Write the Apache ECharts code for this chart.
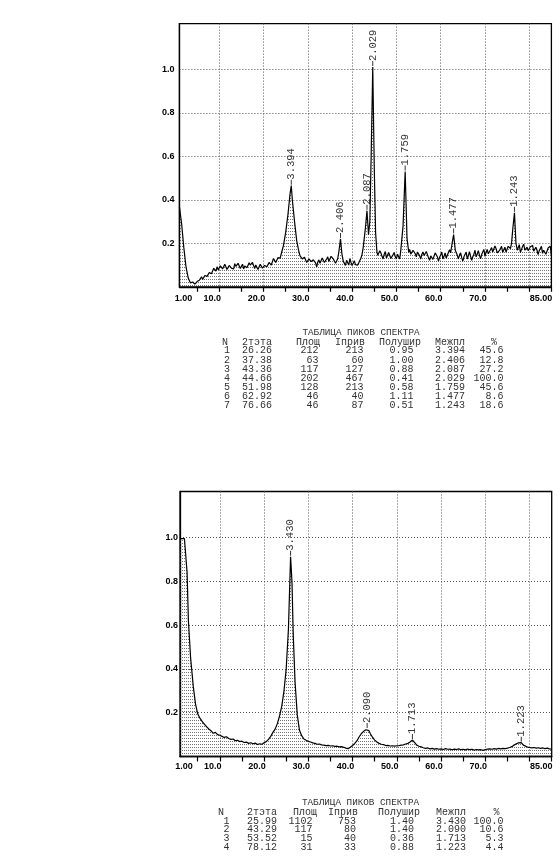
<!DOCTYPE html>
<html>
<head>
<meta charset="utf-8">
<script src="https://cdn.jsdelivr.net/npm/echarts@6/dist/echarts.min.js"></script>
<style>
html,body{margin:0;padding:0;background:#fff;}
#c{width:560px;height:856px;}
</style>
</head>
<body>
<div id="c"></div>
<script>
// ---------- axis ticks / labels ----------
const xLabelValues = [1, 10, 20, 30, 40, 50, 60, 70, 85];
const xLabelTexts = ['1.00', '10.0', '20.0', '30.0', '40.0', '50.0', '60.0', '70.0', '85.00'];
const xTickValues = [5, 10, 15, 20, 25, 30, 35, 40, 45, 50, 55, 60, 65, 70, 75, 80, 85];
const xGridValues = [10, 20, 30, 40, 50, 60, 70, 80];
const yLabelValues = [0.2, 0.4, 0.6, 0.8, 1.0];

// ---------- spectrum 1 (2theta, relative intensity) ----------
const spectrumA = [
[1.0,0.37],[1.5,0.29],[2.0,0.18],[2.5,0.09],[3.0,0.04],[3.5,0.018],[4.0,0.022],[4.5,0.012],
[5.0,0.024],[5.25,0.018],[5.5,0.03],[5.75,0.026],[6.0,0.046],[6.25,0.034],[6.5,0.038],[6.75,0.052],[7.0,0.06],[7.25,0.048],
[7.5,0.052],[7.75,0.066],[8.0,0.075],[8.25,0.06],[8.5,0.068],[8.75,0.085],[9.0,0.082],[9.25,0.072],[9.5,0.092],[9.75,0.078],
[10.0,0.084],[10.25,0.096],[10.5,0.1],[10.75,0.082],[11.0,0.088],[11.25,0.104],[11.5,0.097],[11.75,0.08],[12.0,0.084],[12.25,0.098],
[12.5,0.102],[12.75,0.086],[13.0,0.09],[13.25,0.082],[13.5,0.106],[13.75,0.094],[14.0,0.088],[14.25,0.108],[14.5,0.1],[14.75,0.084],
[15.0,0.094],[15.25,0.104],[15.5,0.082],[15.75,0.096],[16.0,0.104],[16.25,0.088],[16.5,0.09],[16.75,0.11],[17.0,0.1],[17.25,0.092],
[17.5,0.112],[17.75,0.098],[18.0,0.084],[18.25,0.1],[18.5,0.096],[18.75,0.08],[19.0,0.088],[19.25,0.104],[19.5,0.1],[19.75,0.086],
[20.0,0.084],[20.25,0.098],[20.5,0.106],[20.75,0.092],[21.0,0.098],[21.25,0.112],[21.5,0.116],[21.75,0.1],[22.0,0.108],[22.25,0.13],
[22.5,0.126],[22.75,0.112],[23.0,0.118],[23.25,0.134],[23.5,0.14],[23.75,0.132],[24.0,0.152],[24.5,0.19],[25.0,0.25],[25.5,0.33],
[26.0,0.43],[26.26,0.465],[26.5,0.4],[27.0,0.3],[27.5,0.21],
[28.0,0.16],[28.25,0.142],[28.5,0.138],[28.75,0.128],[29.0,0.122],[29.25,0.136],[29.5,0.13],[29.75,0.112],[30.0,0.118],[30.25,0.128],
[30.5,0.134],[30.75,0.116],[31.0,0.108],[31.25,0.124],[31.5,0.128],[31.75,0.11],[32.0,0.092],[32.25,0.114],[32.5,0.124],[32.75,0.108],
[33.0,0.112],[33.25,0.132],[33.5,0.13],[33.75,0.112],[34.0,0.118],[34.25,0.128],[34.5,0.138],[34.75,0.116],[35.0,0.124],[35.25,0.14],
[35.5,0.148],[35.75,0.128],[36.0,0.13],[36.25,0.108],[36.5,0.118],[36.75,0.13],[37.0,0.16],[37.38,0.22],[37.7,0.15],[38.0,0.118],
[38.25,0.11],[38.5,0.098],[38.75,0.122],[39.0,0.114],[39.25,0.1],[39.5,0.13],[39.75,0.112],[40.0,0.098],[40.25,0.108],[40.5,0.12],
[40.75,0.102],[41.0,0.094],[41.25,0.1],[41.5,0.11],[41.75,0.118],[42.0,0.132],[42.25,0.15],[42.5,0.18],[43.0,0.27],[43.36,0.35],
[43.7,0.24],[44.0,0.3],[44.3,0.6],[44.66,1.01],[45.0,0.55],[45.3,0.25],
[45.6,0.16],[45.8,0.145],[46.0,0.138],[46.25,0.166],[46.5,0.156],[46.75,0.14],[47.0,0.128],[47.25,0.15],[47.5,0.162],[47.75,0.132],
[48.0,0.136],[48.25,0.158],[48.5,0.15],[48.75,0.13],[49.0,0.122],[49.25,0.148],[49.5,0.158],[49.75,0.138],[50.0,0.128],[50.25,0.15],
[50.5,0.142],[50.75,0.128],[51.0,0.17],[51.5,0.28],[51.98,0.53],[52.4,0.22],[52.8,0.158],[53.0,0.172],[53.25,0.15],[53.5,0.142],
[53.75,0.168],[54.0,0.176],[54.25,0.152],[54.5,0.138],[54.75,0.16],[55.0,0.166],[55.25,0.142],[55.5,0.128],[55.75,0.15],[56.0,0.16],
[56.25,0.144],[56.5,0.138],[56.75,0.162],[57.0,0.156],[57.25,0.134],[57.5,0.122],[57.75,0.142],[58.0,0.15],[58.25,0.126],[58.5,0.132],
[58.75,0.156],[59.0,0.162],[59.25,0.138],[59.5,0.118],[59.75,0.136],[60.0,0.146],[60.25,0.16],[60.5,0.128],[60.75,0.14],[61.0,0.156],
[61.25,0.132],[61.5,0.138],[61.75,0.158],[62.0,0.17],[62.25,0.156],[62.5,0.19],[62.92,0.24],[63.3,0.168],[63.5,0.158],[63.7,0.148],
[64.0,0.128],[64.25,0.146],[64.5,0.156],[64.75,0.134],[65.0,0.118],[65.25,0.138],[65.5,0.146],[65.75,0.16],[66.0,0.128],[66.25,0.144],
[66.5,0.162],[66.75,0.14],[67.0,0.122],[67.25,0.138],[67.5,0.15],[67.75,0.168],[68.0,0.138],[68.25,0.15],[68.5,0.166],[68.75,0.146],
[69.0,0.128],[69.25,0.148],[69.5,0.156],[69.75,0.172],[70.0,0.14],[70.25,0.158],[70.5,0.172],[70.75,0.152],[71.0,0.148],[71.25,0.17],
[71.5,0.18],[71.75,0.16],[72.0,0.158],[72.25,0.188],[72.5,0.176],[72.75,0.156],[73.0,0.148],[73.25,0.166],[73.5,0.172],[73.75,0.186],
[74.0,0.158],[74.25,0.17],[74.5,0.182],[74.75,0.16],[75.0,0.164],[75.25,0.186],[75.5,0.19],[75.75,0.176],[76.0,0.2],[76.3,0.27],
[76.66,0.34],[77.0,0.2],[77.3,0.168],[77.5,0.176],[77.75,0.194],[78.0,0.158],[78.25,0.172],[78.5,0.186],[78.75,0.196],[79.0,0.168],
[79.25,0.176],[79.5,0.182],[79.75,0.166],[80.0,0.158],[80.25,0.184],[80.5,0.176],[80.75,0.19],[81.0,0.164],[81.25,0.17],[81.5,0.182],
[81.75,0.168],[82.0,0.148],[82.25,0.166],[82.5,0.172],[82.75,0.186],[83.0,0.154],[83.25,0.168],[83.5,0.176],[83.75,0.15],[84.0,0.158],
[84.25,0.178],[84.5,0.17],[84.75,0.186],[85.0,0.145]
];
const peakTopA = [0.465, 0.22, 0.35, 1.01, 0.53, 0.24, 0.34];

// peak table 1
const tblA_N = [1, 2, 3, 4, 5, 6, 7];
const tblA_theta = ['26.26', '37.38', '43.36', '44.66', '51.98', '62.92', '76.66'];
const tblA_area = [212, 63, 117, 202, 128, 46, 46];
const tblA_int = [213, 60, 127, 467, 213, 40, 87];
const tblA_fwhm = ['0.95', '1.00', '0.88', '0.41', '0.58', '1.11', '0.51'];
const tblA_d = ['3.394', '2.406', '2.087', '2.029', '1.759', '1.477', '1.243'];
const tblA_pct = ['45.6', '12.8', '27.2', '100.0', '45.6', '8.6', '18.6'];

// ---------- spectrum 2 ----------
const spectrumB = [
[1.0,0.995],[1.5,0.995],[2.0,0.995],[2.4,0.995],[2.6,0.84],[2.9,0.62],[3.4,0.45],[4.0,0.32],[4.5,0.24],[5.0,0.195],
[5.5,0.175],[6.0,0.16],[6.5,0.148],[7.0,0.136],[7.5,0.126],[8.0,0.118],[8.5,0.106],[9.0,0.11],[9.5,0.1],[10.0,0.097],
[10.5,0.092],[11.0,0.087],[11.5,0.09],[12.0,0.082],[12.5,0.078],[13.0,0.08],[13.5,0.072],[14.0,0.074],[14.5,0.068],[15.0,0.07],
[15.5,0.064],[16.0,0.066],[16.5,0.06],[17.0,0.063],[17.5,0.058],[18.0,0.061],[18.5,0.055],[19.0,0.058],[19.5,0.056],[20.0,0.063],
[20.5,0.068],[21.0,0.078],[21.5,0.092],[22.0,0.11],[22.5,0.125],[23.0,0.15],[23.5,0.185],[24.0,0.23],[24.5,0.3],[25.0,0.4],
[25.5,0.58],[25.99,0.912],[26.3,0.8],[26.6,0.55],[27.0,0.34],[27.5,0.19],[28.0,0.12],[28.5,0.095],[29.0,0.08],[29.5,0.074],
[30.0,0.069],[30.5,0.066],[31.0,0.062],[31.5,0.06],[32.0,0.056],[32.5,0.057],[33.0,0.053],[33.5,0.052],[34.0,0.05],[34.5,0.051],
[35.0,0.048],[35.5,0.049],[36.0,0.046],[36.5,0.047],[37.0,0.044],[37.5,0.045],[38.0,0.042],[38.5,0.038],[39.0,0.036],[39.5,0.042],
[40.0,0.05],[40.5,0.06],[41.0,0.072],[41.5,0.09],[42.0,0.105],[42.5,0.115],[43.0,0.122],[43.29,0.125],[43.7,0.118],[44.0,0.105],
[44.5,0.088],[45.0,0.075],[45.5,0.066],[46.0,0.06],[46.5,0.056],[47.0,0.054],[47.5,0.05],[48.0,0.051],[48.5,0.048],[49.0,0.049],
[49.5,0.047],[50.0,0.049],[50.5,0.05],[51.0,0.052],[51.5,0.053],[52.0,0.057],[52.5,0.06],[53.0,0.066],[53.52,0.075],[54.0,0.064],
[54.5,0.052],[55.0,0.047],[55.5,0.044],[56.0,0.04],[56.5,0.037],[57.0,0.039],[57.5,0.035],[58.0,0.037],[58.5,0.034],[59.0,0.036],
[59.5,0.033],[60.0,0.035],[60.5,0.032],[61.0,0.036],[61.5,0.033],[62.0,0.034],[62.5,0.031],[63.0,0.034],[63.5,0.032],[64.0,0.035],
[64.5,0.031],[65.0,0.033],[65.5,0.03],[66.0,0.034],[66.5,0.031],[67.0,0.033],[67.5,0.029],[68.0,0.032],[68.5,0.03],[69.0,0.031],
[69.5,0.028],[70.0,0.032],[70.5,0.034],[71.0,0.035],[71.5,0.033],[72.0,0.036],[72.5,0.034],[73.0,0.037],[73.5,0.035],[74.0,0.037],
[74.5,0.036],[75.0,0.038],[75.5,0.041],[76.0,0.045],[76.5,0.052],[77.0,0.058],[77.5,0.062],[78.12,0.063],[78.6,0.052],[79.0,0.046],
[79.5,0.043],[80.0,0.041],[80.5,0.039],[81.0,0.041],[81.5,0.038],[82.0,0.04],[82.5,0.037],[83.0,0.039],[83.5,0.036],[84.0,0.038],
[84.5,0.035],[85.0,0.034]
];
const peakTopB = [0.912, 0.125, 0.075, 0.063];

// peak table 2
const tblB_N = [1, 2, 3, 4];
const tblB_theta = ['25.99', '43.29', '53.52', '78.12'];
const tblB_area = [1102, 117, 15, 31];
const tblB_int = [753, 80, 40, 33];
const tblB_fwhm = ['1.40', '1.40', '0.36', '0.88'];
const tblB_d = ['3.430', '2.090', '1.713', '1.223'];
const tblB_pct = ['100.0', '10.6', '5.3', '4.4'];

const tableTitle = 'ТАБЛИЦА ПИКОВ СПЕКТРА';
const tableHeaders = ['N', '2тэта', 'Площ', 'Iприв', 'Полушир', 'Межпл', '%'];

// ---------- rendering ----------
const chart = echarts.init(document.getElementById('c'), null, {renderer: 'canvas'});

function makePattern() {
  const c = document.createElement('canvas');
  c.width = 2; c.height = 3;
  const ctx = c.getContext('2d');
  ctx.fillStyle = '#3a3a3a';
  ctx.fillRect(0, 0, 1, 1);
  return c;
}
const hatch = makePattern();

const dotted = {color: '#555', width: 1, type: [1, 2]};
const axisFont = {fontFamily: 'Liberation Sans', fontWeight: 'bold', fontSize: 9, color: '#000'};

function xAxesFor(gi, margin) {
  return [
    {
      gridIndex: gi, type: 'value', min: 1, max: 85,
      axisLine: {show: true, onZero: false, lineStyle: {color: '#000', width: 1.3}},
      axisTick: {show: true, customValues: xTickValues, length: 5, lineStyle: {color: '#000', width: 1.2}},
      axisLabel: {
        show: true, customValues: xLabelValues, margin: margin,
        formatter: function (v) {
          const i = xLabelValues.indexOf(v);
          if (i < 0) return '';
          const key = i === 0 ? 'f' : (i === xLabelValues.length - 1 ? 'l' : 'm');
          return '{' + key + '|' + xLabelTexts[i] + '}';
        },
        rich: {
          f: Object.assign({padding: [0, 0, 0, 8]}, axisFont),
          m: Object.assign({padding: [0, 14, 0, 0]}, axisFont),
          l: Object.assign({padding: [0, 21, 0, 0]}, axisFont)
        }
      },
      splitLine: {show: false}
    },
    {
      gridIndex: gi, type: 'value', min: 1, max: 85, position: 'bottom',
      axisLine: {show: false},
      axisTick: {show: false, customValues: xGridValues},
      axisLabel: {show: false, customValues: xGridValues},
      splitLine: {show: true, lineStyle: dotted}
    }
  ];
}

function yAxisFor(gi, margin) {
  return {
    gridIndex: gi, type: 'value', min: 0, max: 1.21,
    axisLine: {show: true, lineStyle: {color: '#000', width: 1.3}},
    axisTick: {show: false, customValues: yLabelValues},
    axisLabel: Object.assign({
      margin: margin, customValues: yLabelValues,
      formatter: function (v) { return v.toFixed(1); }
    }, axisFont),
    splitLine: {show: true, lineStyle: dotted}
  };
}

function spectrumSeries(data, xi, yi) {
  return {
    type: 'line', xAxisIndex: xi, yAxisIndex: yi, data: data,
    showSymbol: false, silent: true,
    lineStyle: {color: '#000', width: 1.2},
    areaStyle: {color: {image: hatch, repeat: 'repeat'}},
    z: 3
  };
}

function peakSeries(thetas, tops, labels, xi, yi) {
  return {
    type: 'scatter', xAxisIndex: xi, yAxisIndex: yi, silent: true,
    data: thetas.map((t, i) => [parseFloat(t), tops[i]]),
    symbol: 'rect', symbolSize: [1, 5], symbolOffset: [0, -3.5],
    itemStyle: {color: '#000'},
    label: {
      show: true, position: 'top', distance: 0, rotate: 90,
      align: 'left', verticalAlign: 'middle',
      formatter: p => labels[p.dataIndex],
      fontFamily: 'Liberation Mono', fontSize: 10.5, color: '#000'
    },
    z: 5
  };
}

function tableGraphics(titleX, titleY, headerY, rowYs, hcols, vcols, columns) {
  const els = [];
  const bodyFont = '10px "Liberation Mono"';
  els.push({type: 'text', x: titleX, y: titleY, silent: true,
    style: {text: tableTitle, font: '9.3px "Liberation Mono"', fill: '#333', align: 'center', verticalAlign: 'middle'}});
  tableHeaders.forEach((h, j) => {
    els.push({type: 'text', x: hcols[j][0], y: headerY, silent: true,
      style: {text: h, font: bodyFont, fill: '#333', align: hcols[j][1], verticalAlign: 'middle'}});
  });
  rowYs.forEach((ry, r) => {
    columns.forEach((col, j) => {
      els.push({type: 'text', x: vcols[j][0], y: ry, silent: true,
        style: {text: String(col[r]), font: bodyFont, fill: '#333', align: vcols[j][1], verticalAlign: 'middle'}});
    });
  });
  return els;
}

const graphics = [].concat(
  tableGraphics(361, 332.5, 342,
    [350.7, 360, 369.3, 378.7, 387.5, 396.7, 405.7],
    [[225, 'center'], [242, 'left'], [296, 'left'], [335, 'left'], [379, 'left'], [435, 'left'], [494, 'center']],
    [[227, 'center'], [242, 'left'], [318.5, 'right'], [363.5, 'right'], [413.5, 'right'], [435, 'left'], [503.5, 'right']],
    [tblA_N, tblA_theta, tblA_area, tblA_int, tblA_fwhm, tblA_d, tblA_pct]),
  tableGraphics(360.5, 802.7, 812.3,
    [821, 829.8, 838.8, 847.5],
    [[221, 'center'], [247, 'left'], [293, 'left'], [328, 'left'], [378, 'left'], [436, 'left'], [496.5, 'center']],
    [[226.5, 'center'], [247, 'left'], [312.5, 'right'], [356, 'right'], [414, 'right'], [436, 'left'], [503.5, 'right']],
    [tblB_N, tblB_theta, tblB_area, tblB_int, tblB_fwhm, tblB_d, tblB_pct])
);

const option = {
  backgroundColor: '#fff',
  animation: false,
  grid: [
    {left: 179.4, top: 23.6, width: 372, height: 263.2, show: true, borderColor: '#000', borderWidth: 1.3},
    {left: 180, top: 491.5, width: 371.7, height: 265, show: true, borderColor: '#000', borderWidth: 1.3}
  ],
  xAxis: [].concat(xAxesFor(0, 7), xAxesFor(1, 6)),
  yAxis: [yAxisFor(0, 5), yAxisFor(1, 2)],
  series: [
    spectrumSeries(spectrumA, 0, 0),
    peakSeries(tblA_theta, peakTopA, tblA_d, 0, 0),
    spectrumSeries(spectrumB, 2, 1),
    peakSeries(tblB_theta, peakTopB, tblB_d, 2, 1)
  ],
  graphic: graphics
};
chart.setOption(option);
</script>
</body>
</html>
